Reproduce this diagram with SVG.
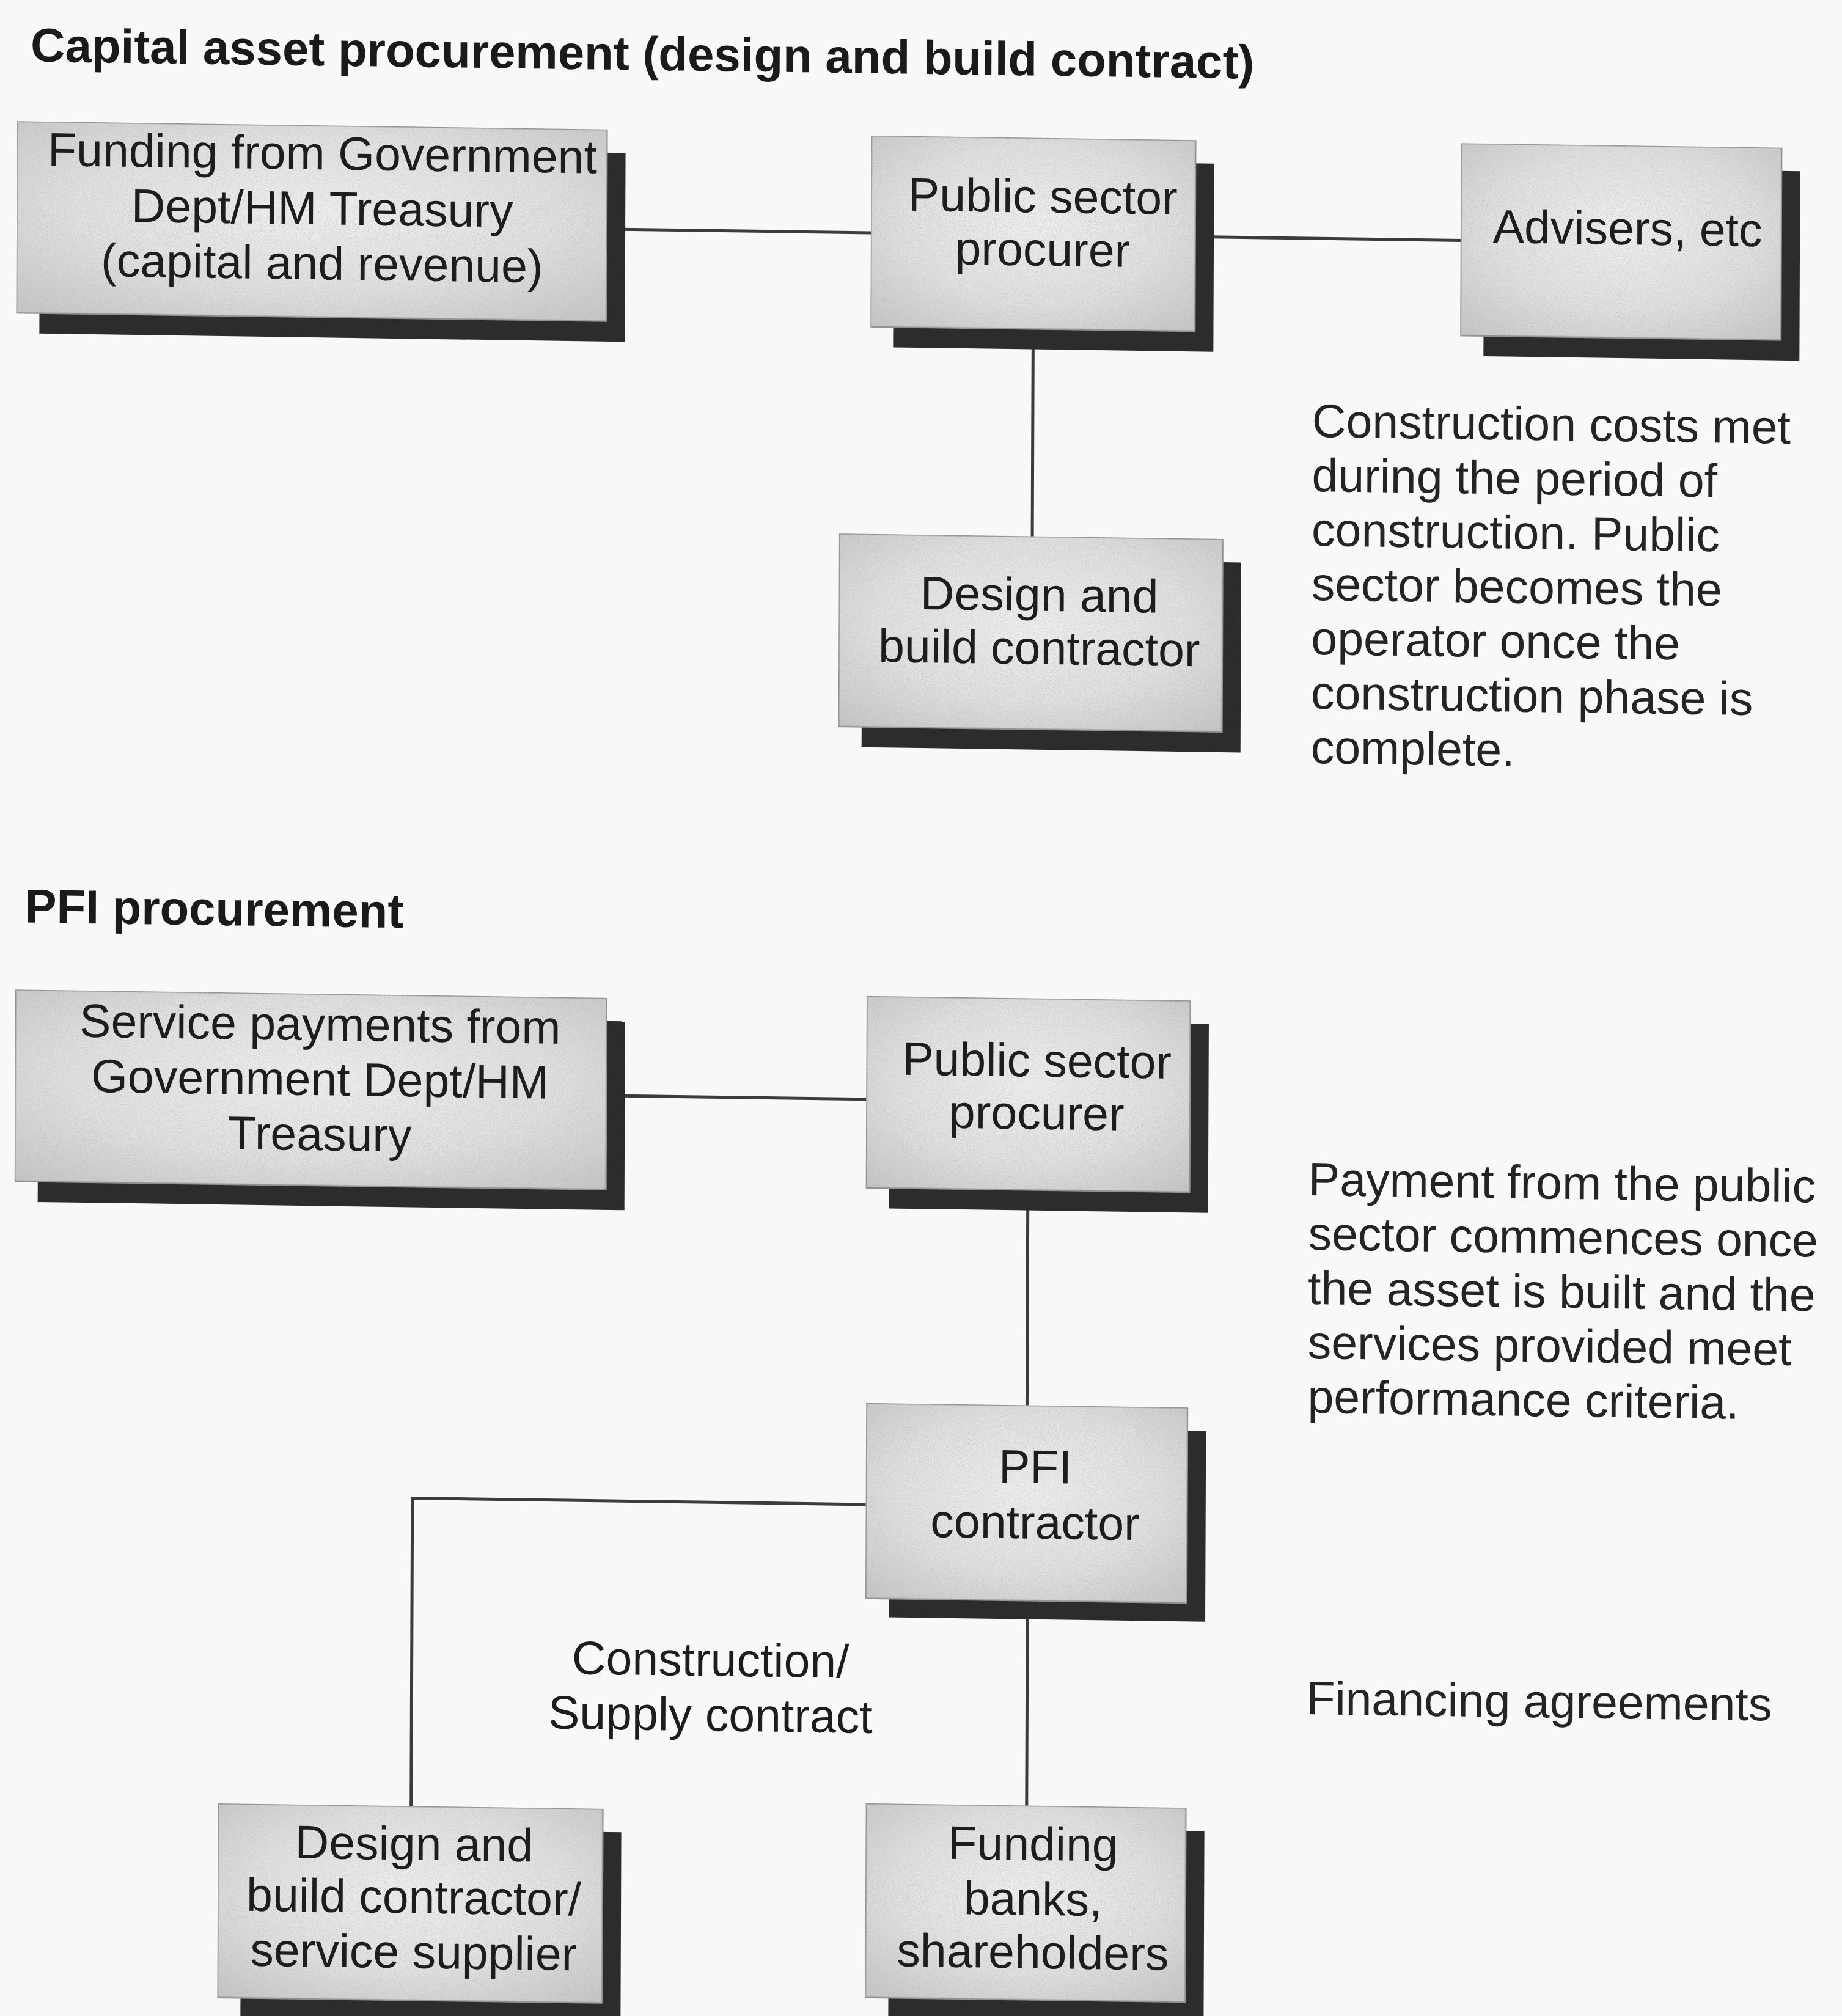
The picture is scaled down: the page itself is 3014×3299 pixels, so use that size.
<svg xmlns="http://www.w3.org/2000/svg" width="3014" height="3299" viewBox="0 0 3014 3299">
  <style>
    .shadow { fill: #2c2c2c; }
    .box { fill: url(#boxFill); stroke: #8d8d8d; stroke-width: 3; filter: url(#grain); }
    .lbl { font-family: "Liberation Sans", Arial, Helvetica, sans-serif; font-size: 77px; fill: #1d1d1d; text-anchor: middle; }
    .para { font-family: "Liberation Sans", Arial, Helvetica, sans-serif; font-size: 77px; fill: #242424; }
    .title { font-family: "Liberation Sans", Arial, Helvetica, sans-serif; font-size: 78px; font-weight: bold; fill: #1a1a1a; }
    .conn { stroke: #3c3c3c; stroke-width: 5; fill: none; }
  </style>
  <defs>
    <radialGradient id="boxFill" cx="0.5" cy="0.45" r="0.75">
      <stop offset="0" stop-color="#f3f3f3"/>
      <stop offset="0.55" stop-color="#e3e3e3"/>
      <stop offset="1" stop-color="#c6c6c6"/>
    </radialGradient>
    <!-- speckled paper texture for the node boxes -->
    <filter id="grain" x="0" y="0" width="1" height="1">
      <feTurbulence type="fractalNoise" baseFrequency="0.6" numOctaves="2" seed="7" result="noise"/>
      <feColorMatrix in="noise" type="matrix" values="0 0 0 0 0.4  0 0 0 0 0.4  0 0 0 0 0.4  0 0 0 1.2 -0.45" result="specks"/>
      <feComposite in="specks" in2="SourceGraphic" operator="in" result="clipped"/>
      <feMerge><feMergeNode in="SourceGraphic"/><feMergeNode in="clipped"/></feMerge>
    </filter>
  </defs>

  <rect x="0" y="0" width="3014" height="3299" fill="#f8f8f8"/>

  <!-- whole sheet sits slightly askew -->
  <g transform="matrix(1 0.014 -0.004 1 6.6 -21)">

    <text class="title" x="44" y="121">Capital asset procurement (design and build contract)</text>
    <text class="title" x="40" y="1530">PFI procurement</text>

    <g id="connectors">
      <line class="conn" x1="1010" y1="382" x2="1420" y2="382"/>
      <line class="conn" x1="1975" y1="381" x2="2385" y2="381"/>
      <line class="conn" x1="1686" y1="560" x2="1686" y2="875"/>
      <line class="conn" x1="1015" y1="1800" x2="1418" y2="1800"/>
      <line class="conn" x1="1683" y1="1970" x2="1683" y2="2297"/>
      <polyline class="conn" points="1420,2463 678,2463 678,2967"/>
      <line class="conn" x1="1685" y1="2640" x2="1685" y2="2952"/>
    </g>

    <!-- capital asset procurement -->
    <g id="funding-government">
      <rect class="shadow" x="60" y="257" width="958" height="309"/>
      <rect class="box" x="22" y="219" width="966" height="314"/>
      <text class="lbl" x="522" y="291">Funding from Government</text>
      <text class="lbl" x="522" y="381">Dept/HM Treasury</text>
      <text class="lbl" x="522" y="471">(capital and revenue)</text>
    </g>

    <g id="public-sector-procurer-1">
      <rect class="shadow" x="1458" y="261" width="523" height="308"/>
      <rect class="box" x="1420" y="223" width="531" height="313"/>
      <text class="lbl" x="1701" y="345">Public sector</text>
      <text class="lbl" x="1701" y="432">procurer</text>
    </g>

    <g id="advisers">
      <rect class="shadow" x="2423" y="260" width="517" height="310"/>
      <rect class="box" x="2385" y="222" width="525" height="315"/>
      <text class="lbl" x="2658" y="384">Advisers, etc</text>
    </g>

    <g id="design-build-contractor">
      <rect class="shadow" x="1408" y="913" width="620" height="311"/>
      <rect class="box" x="1370" y="875" width="628" height="316"/>
      <text class="lbl" x="1698" y="997">Design and</text>
      <text class="lbl" x="1698" y="1084">build contractor</text>
    </g>

    <g id="note-capital">
      <text class="para" x="2143" y="706">Construction costs met</text>
      <text class="para" x="2143" y="795">during the period of</text>
      <text class="para" x="2143" y="884">construction. Public</text>
      <text class="para" x="2143" y="973">sector becomes the</text>
      <text class="para" x="2143" y="1062">operator once the</text>
      <text class="para" x="2143" y="1151">construction phase is</text>
      <text class="para" x="2143" y="1240">complete.</text>
    </g>

    <!-- PFI procurement -->
    <g id="service-payments">
      <rect class="shadow" x="63" y="1678" width="960" height="309"/>
      <rect class="box" x="25" y="1640" width="968" height="314"/>
      <text class="lbl" x="524" y="1716">Service payments from</text>
      <text class="lbl" x="524" y="1806">Government Dept/HM</text>
      <text class="lbl" x="524" y="1896">Treasury</text>
    </g>

    <g id="public-sector-procurer-2">
      <rect class="shadow" x="1456" y="1669" width="522" height="309"/>
      <rect class="box" x="1418" y="1631" width="530" height="314"/>
      <text class="lbl" x="1697" y="1759">Public sector</text>
      <text class="lbl" x="1697" y="1845">procurer</text>
    </g>

    <g id="pfi-contractor">
      <rect class="shadow" x="1458" y="2335" width="518" height="312"/>
      <rect class="box" x="1420" y="2297" width="526" height="320"/>
      <text class="lbl" x="1697" y="2424">PFI</text>
      <text class="lbl" x="1697" y="2515">contractor</text>
    </g>

    <g id="design-build-supplier">
      <rect class="shadow" x="400" y="3005" width="622" height="330"/>
      <rect class="box" x="362" y="2967" width="630" height="318"/>
      <text class="lbl" x="683" y="3055">Design and</text>
      <text class="lbl" x="683" y="3142">build contractor/</text>
      <text class="lbl" x="683" y="3232">service supplier</text>
    </g>

    <g id="funding-banks">
      <rect class="shadow" x="1460" y="2990" width="516" height="340"/>
      <rect class="box" x="1422" y="2952" width="524" height="318"/>
      <text class="lbl" x="1696" y="3041">Funding</text>
      <text class="lbl" x="1696" y="3131">banks,</text>
      <text class="lbl" x="1696" y="3218">shareholders</text>
    </g>

    <g id="contract-label">
      <text class="lbl" x="1167" y="2747" fill="#2a2a2a">Construction/</text>
      <text class="lbl" x="1167" y="2837" fill="#2a2a2a">Supply contract</text>
    </g>

    <g id="note-pfi">
      <text class="para" x="2142" y="1947">Payment from the public</text>
      <text class="para" x="2142" y="2036">sector commences once</text>
      <text class="para" x="2142" y="2125">the asset is built and the</text>
      <text class="para" x="2142" y="2214">services provided meet</text>
      <text class="para" x="2142" y="2303">performance criteria.</text>
    </g>

    <text class="para" x="2142" y="2796">Financing agreements</text>
  </g>
</svg>
